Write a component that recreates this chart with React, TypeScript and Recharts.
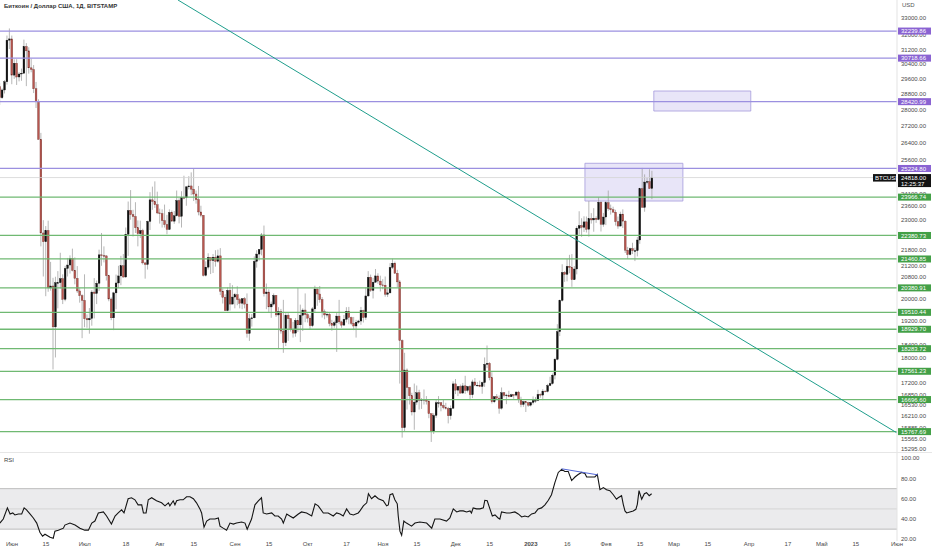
import React from 'react';
import {
  ComposedChart,
  Bar,
  Line,
  XAxis,
  YAxis,
  ReferenceLine,
  ReferenceArea,
} from 'recharts';

// day 0 = 1 June 2022, one candle per day: [open, high, low, close]
const firstDay = -5;

const may22 = [
  [29190, 29380, 28250, 28620], [28620, 29100, 28560, 29020], [29020, 29540, 28840, 29450],
  [29450, 31980, 29300, 31720], [31720, 32390, 31220, 31790],
];

const jun22 = [
  [31790, 31980, 29320, 29800], [29800, 30650, 29600, 30440], [30440, 30660, 29280, 29700],
  [29700, 29960, 29470, 29860], [29860, 30150, 29500, 29900], [29900, 31750, 29880, 31360],
  [31360, 31550, 29220, 31120], [31120, 31320, 29880, 30190], [30190, 30690, 29950, 30100],
  [30100, 30340, 28860, 29080], [29080, 29440, 28100, 28420], [28420, 28540, 26560, 26570],
  [26570, 26880, 21950, 22480], [22480, 23000, 20800, 22130], [22130, 22760, 20080, 22580],
  [22580, 22980, 20240, 20380], [20380, 21350, 20280, 20450], [20450, 20750, 17620, 19010],
  [19010, 20790, 18000, 20570], [20570, 21000, 19650, 20570], [20570, 21700, 20360, 20720],
  [20720, 20880, 19800, 19970], [19970, 21200, 19900, 21100], [21100, 21500, 20800, 21230],
  [21230, 21600, 20910, 21480], [21480, 21860, 20990, 21030], [21030, 21520, 20510, 20730],
  [20730, 21190, 20200, 20270], [20270, 20370, 19850, 20100], [20100, 20150, 18630, 19930],
];

const jul22 = [
  [19930, 20880, 19000, 19290], [19290, 19440, 18980, 19250], [19250, 19660, 18780, 19300],
  [19300, 20300, 19050, 20230], [20230, 20740, 19300, 20180], [20180, 20650, 19800, 20550],
  [20550, 21820, 20270, 21620], [21620, 22480, 21200, 21590], [21590, 21950, 21330, 21580],
  [21580, 21600, 20650, 20830], [20830, 20860, 19900, 19980], [19980, 20040, 19240, 19320],
  [19320, 20240, 18900, 20200], [20200, 20870, 19620, 20560], [20560, 21200, 20380, 20820],
  [20820, 21580, 20480, 21200], [21200, 21650, 20760, 20780], [20780, 22700, 20760, 22430],
  [22430, 23780, 21580, 23400], [23400, 24270, 23020, 23230], [23230, 23430, 22340, 23150],
  [23150, 23750, 22480, 22690], [22690, 22990, 21950, 22450], [22450, 22980, 22280, 22580],
  [22580, 22650, 21250, 21310], [21310, 21350, 20720, 21250], [21250, 22980, 21060, 22950],
  [22950, 24180, 22600, 23850], [23850, 24420, 23430, 23780], [23780, 24650, 23510, 23640],
  [23640, 24200, 23250, 23300],
];

const aug22 = [
  [23300, 23480, 22860, 23270], [23270, 23450, 22700, 22980], [22980, 23650, 22700, 22820],
  [22820, 23220, 22430, 22620], [22620, 23450, 22600, 23320], [23320, 23400, 22950, 22960],
  [22960, 23380, 22850, 23180], [23180, 24250, 23150, 23820], [23820, 23920, 22870, 23160],
  [23160, 24220, 22700, 23950], [23950, 24900, 23880, 23940], [23940, 24450, 23600, 24410],
  [24410, 24880, 24300, 24450], [24450, 25050, 24050, 24310], [24310, 25210, 23800, 24100],
  [24100, 24250, 23690, 23860], [23860, 24450, 23200, 23340], [23340, 23600, 23120, 23200],
  [23200, 23200, 20800, 20840], [20840, 21370, 20800, 21150], [21150, 21680, 21060, 21520],
  [21520, 21520, 20890, 21400], [21400, 21650, 20930, 21530], [21530, 21800, 21170, 21370],
  [21370, 21820, 21320, 21580], [21580, 21880, 20120, 20260], [20260, 20360, 19820, 20040],
  [20040, 20150, 19560, 19570], [19570, 20400, 19550, 20290], [20290, 20560, 19570, 19800],
  [19800, 20480, 19790, 20050],
];

const sep22 = [
  [20050, 20200, 19650, 20130], [20130, 20440, 19760, 19960], [19960, 20020, 19650, 19830],
  [19830, 20010, 19620, 19990], [19990, 20050, 19650, 19800], [19800, 20180, 18650, 18790],
  [18790, 19460, 18540, 19290], [19290, 19450, 19020, 19320], [19320, 21560, 19300, 21370],
  [21370, 21800, 21130, 21650], [21650, 21820, 21400, 21830], [21830, 22480, 21600, 22400],
  [22400, 22780, 20070, 20170], [20170, 20540, 19620, 20230], [20230, 20330, 19500, 19700],
  [19700, 19890, 19320, 19800], [19800, 20180, 19750, 20110], [20110, 20110, 19350, 19420],
  [19420, 19690, 18270, 19540], [19540, 19630, 18780, 18870], [18870, 19950, 18150, 18480],
  [18480, 19480, 18370, 19410], [19410, 19480, 18540, 19290], [19290, 19310, 18850, 18920],
  [18920, 19180, 18650, 18800], [18800, 19310, 18680, 19230], [19230, 20380, 18840, 19080],
  [19080, 19780, 18500, 19410], [19410, 19650, 18870, 19590], [19590, 20180, 19170, 19430],
];

const oct22 = [
  [19430, 19480, 19160, 19310], [19310, 19400, 18920, 19050], [19050, 19690, 19000, 19630],
  [19630, 20460, 19520, 20340], [20340, 20360, 19740, 20160], [20160, 20450, 19850, 19960],
  [19960, 20050, 19330, 19530], [19530, 19610, 19270, 19420], [19420, 19540, 19330, 19440],
  [19440, 19520, 19030, 19130], [19130, 19250, 18880, 19060], [19060, 19220, 18980, 19150],
  [19150, 19500, 18180, 19380], [19380, 19950, 19100, 19180], [19180, 19220, 18980, 19070],
  [19070, 19420, 19060, 19270], [19270, 19690, 19160, 19550], [19550, 19700, 19100, 19330],
  [19330, 19360, 19070, 19130], [19130, 19350, 18900, 19040], [19040, 19250, 18650, 19170],
  [19170, 19250, 19120, 19210], [19210, 19700, 19080, 19570], [19570, 19600, 19160, 19330],
  [19330, 20400, 19250, 20090], [20090, 21000, 20060, 20770], [20770, 20870, 20230, 20290],
  [20290, 20750, 20000, 20590], [20590, 21080, 20560, 20820], [20820, 20920, 20530, 20630],
  [20630, 20830, 20250, 20490],
];

const nov22 = [
  [20490, 20700, 20330, 20480], [20480, 20800, 20060, 20150], [20150, 20390, 20050, 20200],
  [20200, 21300, 20180, 21140], [21140, 21470, 21080, 21300], [21300, 21360, 20900, 20920],
  [20920, 21050, 20400, 20600], [20600, 20670, 17180, 18550], [18550, 18590, 15600, 15880],
  [15880, 18150, 15760, 17600], [17600, 17650, 16400, 17060], [17060, 17060, 16550, 16810],
  [16810, 16900, 16230, 16330], [16330, 17180, 15820, 16620], [16620, 17120, 16540, 16900],
  [16900, 16990, 16400, 16670], [16670, 16740, 16420, 16690], [16690, 17000, 16550, 16700],
  [16700, 16800, 16550, 16650], [16650, 16700, 16150, 16280], [16280, 16280, 15480, 15780],
  [15780, 16290, 15700, 16230], [16230, 16680, 16160, 16600], [16600, 16800, 16460, 16600],
  [16600, 16610, 16350, 16520], [16520, 16700, 16410, 16460], [16460, 16600, 16400, 16430],
  [16430, 16480, 16000, 16220], [16220, 16520, 16110, 16440], [16440, 17250, 16430, 17170],
];

const dec22 = [
  [17170, 17320, 16860, 16980], [16980, 17100, 16800, 17090], [17090, 17150, 16880, 16890],
  [16890, 17200, 16880, 17110], [17110, 17420, 16870, 16970], [16970, 17100, 16910, 17090],
  [17090, 17140, 16680, 16840], [16840, 17300, 16740, 17230], [17230, 17350, 17100, 17130],
  [17130, 17230, 17090, 17130], [17130, 17270, 17070, 17090], [17090, 17240, 16870, 17210],
  [17210, 18000, 17080, 17780], [17780, 18390, 17660, 17810], [17810, 17850, 17280, 17360],
  [17360, 17530, 16580, 16630], [16630, 16800, 16590, 16780], [16780, 16860, 16690, 16740],
  [16740, 16820, 16280, 16440], [16440, 17060, 16400, 16900], [16900, 16920, 16760, 16820],
  [16820, 16870, 16560, 16830], [16830, 16960, 16760, 16780], [16780, 16870, 16780, 16840],
  [16840, 16860, 16720, 16830], [16830, 16950, 16790, 16920], [16920, 16960, 16600, 16700],
  [16700, 16780, 16470, 16550], [16550, 16660, 16480, 16630], [16630, 16640, 16330, 16600],
  [16600, 16630, 16480, 16530],
];

const jan23 = [
  [16530, 16630, 16490, 16610], [16610, 16790, 16550, 16670], [16670, 16770, 16600, 16670],
  [16670, 16990, 16650, 16850], [16850, 16880, 16750, 16830], [16830, 17010, 16680, 16950],
  [16950, 16970, 16910, 16940], [16940, 17170, 16910, 17120], [17120, 17390, 17100, 17180],
  [17180, 17490, 17150, 17440], [17440, 17990, 17310, 17940], [17940, 19100, 17910, 18850],
  [18850, 19960, 18700, 19930], [19930, 21260, 19890, 20950], [20950, 21000, 20600, 20880],
  [20880, 21460, 20620, 21180], [21180, 21620, 20920, 21140], [21140, 21650, 20420, 20680],
  [20680, 21190, 20670, 21080], [21080, 22750, 20880, 22670], [22670, 23370, 22420, 22780],
  [22780, 23080, 22330, 22710], [22710, 23160, 22520, 22930], [22930, 23150, 22500, 22630],
  [22630, 23800, 22330, 23060], [23060, 23290, 22860, 23010], [23010, 23500, 22530, 23080],
  [23080, 23160, 22890, 23030], [23030, 23960, 23000, 23750], [23750, 23800, 22540, 22830],
  [22830, 23300, 22730, 23130],
];

const feb23 = [
  [23130, 23800, 22800, 23730], [23730, 24250, 23390, 23480], [23480, 23650, 23230, 23430],
  [23430, 23560, 23330, 23330], [23330, 23430, 22780, 22940], [22940, 23150, 22650, 22760],
  [22760, 23350, 22750, 23250], [23250, 23450, 22680, 22960], [22960, 23000, 21690, 21800],
  [21800, 21930, 21470, 21630], [21630, 21900, 21600, 21860], [21860, 22090, 21650, 21780],
  [21780, 21900, 21380, 21780], [21780, 22320, 21560, 22200], [22200, 24370, 22050, 24330],
  [24330, 25250, 23550, 23530], [23530, 24960, 23350, 24620], [24620, 24810, 24520, 24640],
  [24640, 25190, 24320, 24340], [24340, 25120, 23880, 24818],
];

// RSI: day positions and values
const rsiDays = [
  -5, -3.6, -1.9, -0.8, 0.3, 1.2, 2.6, 4, 5, 6, 7.4, 8.8, 10.2, 11.5, 12.6, 13.6, 15.7, 17, 17.7,
  19.1, 21.2, 21.8, 23.9, 26, 28, 30, 31.5, 32.9, 34.2, 35.6, 37.7, 39, 41, 42.5, 43.8, 45.2, 46.2,
  47.9, 49.3, 50.7, 52, 53.5, 54.2, 55.3, 56.2, 57.6, 59.6, 61.7, 63.1, 64.5, 65.1, 66.5, 67.2, 67.9,
  69.3, 70.6, 72, 73.4, 74.8, 76.1, 77.5, 78.2, 79.2, 80.3, 81.6, 83.7, 85.1, 85.8, 87.1, 88.5, 89.9,
  91.3, 92.6, 94.7, 96.1, 97, 98.8, 100.2, 101.6, 102.9, 103.6, 105, 107.1, 108.4, 109.8, 111.2,
  111.9, 113.3, 114.6, 116, 118.1, 119.4, 121.5, 123.6, 125, 126.3, 128.4, 130.4, 132.5, 133.9,
  135.3, 136.6, 138, 139.4, 140.8, 142.8, 143.5, 144.9, 146.3, 147, 148.3, 149.7, 151.1, 153.1,
  154.5, 155.2, 155.9, 157, 157.9, 158.9, 159.3, 160, 160.7, 161.6, 162.7, 164.8, 166.2, 168.2, 171,
  173.1, 174.4, 176.5, 179.2, 180.6, 182, 183.4, 184.7, 186.1, 187.5, 188.9, 189.5, 190.2, 191.6,
  193, 194.4, 195, 196, 197.1, 198.1, 199.2, 200.5, 201.2, 201.9, 204, 205.4, 207.4, 208.8, 210.2,
  211.5, 212.9, 214.3, 215.7, 217, 218.4, 219.8, 221.2, 222.5, 223.9, 225.3, 226.7, 228, 229.4,
  230.8, 232.2, 233.5, 234.9, 236.3, 237, 238.4, 240.4, 241.4, 242.5, 243.9, 245.2, 246.6, 248,
  249.3, 250, 251.4, 252.1, 252.8, 253.5, 254.8, 256.2, 257.3, 257.9, 258.6, 259.7, 260.8, 261.7,
  262.8, 263.8,
];

const rsiValues = [
  36, 40, 51, 45, 46, 44, 45, 45, 51, 49, 45, 41, 36, 27, 23, 25, 22, 21, 28,
  29, 31, 34, 36, 34, 31, 29, 29, 36, 38, 46, 47, 43, 35, 43, 46, 49, 46,
  60, 61, 59, 54, 54, 46, 46, 59, 61, 58, 56, 53, 56, 53, 58, 54, 58,
  59, 59, 62, 62, 60, 56, 50, 46, 32, 38, 40, 40, 41, 33, 31, 29, 36,
  35, 36, 37, 36, 30, 40, 54, 58, 61, 46, 45, 46, 43, 43, 40,
  36, 45, 43, 41, 45, 47, 46, 43, 55, 53, 46, 46, 43, 46,
  45, 43, 50, 45, 44, 46, 48, 53, 56, 65, 60, 63, 60, 58,
  53, 54, 64, 65, 59, 55, 43, 28, 24, 38, 36, 33, 36, 37, 36,
  31, 40, 40, 38, 41, 50, 47, 48, 48, 47, 48, 46, 51, 50,
  50, 51, 58.5, 58, 50, 43, 44, 41, 40, 47, 46, 46, 47, 45, 42,
  43, 42, 45, 46, 50, 51, 54, 58.5, 64, 76, 86, 89, 87, 87,
  78, 81.5, 84, 86, 85, 81.5, 81.5, 81.5, 84, 69, 71, 69, 68, 64,
  59.5, 61, 63, 54.5, 48, 46, 47, 48, 49.6, 54.5, 68, 59.5, 65, 66,
  63, 65,
];

const purpleLevels = [32239.86, 30718.66, 28420.99, 25224.8];
const greenLevels = [
  23966.74, 22380.73, 21460.85, 20380.91, 19510.44, 18929.7, 18283.72, 17561.23, 16696.6, 15767.69,
];
const lastPrice = 24818;

const priceTicks = [
  33000, 32000, 31200, 30400, 29600, 28800, 28000, 27200, 26400, 25600, 24100, 23600, 23000,
  21800, 21200, 20800, 20000, 19200, 18400, 18000, 17200, 16850, 16530, 16210,
  15885, 15565, 15295,
];
const rsiTicks = [20, 40, 60, 80, 100];

const dateTickDays = [
  0, 14, 30, 47, 61, 75, 92, 106, 122, 138, 153, 167, 183, 197, 214, 229, 245, 259, 273, 287, 304,
  320, 334, 348, 365,
];
const dateTickLabels = [
  'Июн', '15', 'Июл', '18', 'Авг', '15', 'Сен', '15', 'Окт', '17', 'Ноя', '15', 'Дек', '15',
  '2023', '16', 'Фев', '15', 'Мар', '15', 'Апр', '17', 'Май', '15', 'Июн',
];

const candleData = [may22, jun22, jul22, aug22, sep22, oct22, nov22, dec22, jan23, feb23]
  .flat()
  .map((c, i) => ({
    day: firstDay + i,
    open: c[0],
    high: c[1],
    low: c[2],
    close: c[3],
    range: [c[2], c[1]],
  }));

const rsiData = rsiDays.map((d, i) => ({ day: d, rsi: rsiValues[i] }));

const dayDomain = [-4.95, 365];
const priceDomain = [15204, 34078];
const font = '"Liberation Sans", Arial, sans-serif';
const axisText = { fontSize: 6, fill: '#4a4a4a', fontFamily: font };

const Candle = (props: any) => {
  const { x, y, width, height } = props;
  const c = props.payload ?? candleData[props.index];
  if (!c || x == null) return null;
  const top = Math.min(y, y + height);
  const bot = Math.max(y, y + height);
  const span = Math.log(c.high) - Math.log(c.low);
  const toY = (p: number) => (span > 0 ? top + ((bot - top) * (Math.log(c.high) - Math.log(p))) / span : top);
  const cx = x + width / 2;
  const up = c.close >= c.open;
  const yo = toY(c.open);
  const yc = toY(c.close);
  return (
    <g>
      <line x1={cx} x2={cx} y1={top} y2={bot} stroke="#a3a3a3" strokeWidth={0.8} />
      <rect
        x={cx - 0.9}
        y={Math.min(yo, yc)}
        width={1.8}
        height={Math.max(0.7, Math.abs(yo - yc))}
        fill={up ? '#111111' : '#b8564f'}
        stroke={up ? '#111111' : '#6d312d'}
        strokeWidth={0.35}
      />
    </g>
  );
};

const LevelTag = (props: any) => {
  const { viewBox, text, bg } = props;
  if (!viewBox) return null;
  const x = viewBox.x + viewBox.width;
  const y = viewBox.y;
  return (
    <g>
      <rect x={x + 1} y={y - 3.5} width={33} height={7} fill={bg} />
      <text x={x + 4} y={y} dy="0.35em" fontSize={6} fill="#ffffff" fontFamily={font}>
        {text}
      </text>
    </g>
  );
};

const LastPriceTag = (props: any) => {
  const { viewBox } = props;
  if (!viewBox) return null;
  const x = viewBox.x + viewBox.width;
  const y = viewBox.y;
  return (
    <g fontFamily={font} fontSize={6} fill="#ffffff">
      <rect x={x - 24} y={y - 3.5} width={23} height={7.5} fill="#131313" />
      <text x={x - 22} y={y} dy="0.35em">BTCUSD</text>
      <rect x={x + 1} y={y - 3.5} width={33} height={13} fill="#131313" />
      <text x={x + 4} y={y} dy="0.35em">{lastPrice.toFixed(2)}</text>
      <text x={x + 4} y={y + 6} dy="0.35em">12:25:37</text>
    </g>
  );
};

const DateTick = (props: any) => {
  const { x, y, payload } = props;
  const i = dateTickDays.indexOf(payload.value);
  const label = dateTickLabels[i] ?? '';
  return (
    <text
      x={x}
      y={y}
      dy="0.71em"
      textAnchor="middle"
      fontSize={6}
      fill="#4a4a4a"
      fontFamily={font}
      fontWeight={label === '2023' ? 700 : 400}
    >
      {label}
    </text>
  );
};

const App: React.FC = () => {
  return (
    <div style={{ position: 'absolute', left: 0, top: 0, width: 932, height: 550, background: '#fff', overflow: 'hidden' }}>
      <ComposedChart width={932} height={452} data={candleData} margin={{ top: 0, right: 0, bottom: 0, left: 0 }}>
        <XAxis type="number" dataKey="day" domain={dayDomain} allowDataOverflow hide />
        <YAxis
          orientation="right"
          scale="log"
          domain={priceDomain}
          allowDataOverflow
          ticks={priceTicks}
          interval={0}
          width={35}
          tick={axisText}
          tickLine={false}
          tickSize={3}
          tickMargin={1}
          axisLine={{ stroke: '#e3e3e3' }}
          tickFormatter={(v: number) => v.toFixed(2)}
        />
        <ReferenceArea x1={236.3} x2={276.7} y1={23800} y2={25460} fill="#d6cff3" fillOpacity={0.55} stroke="#a59bdc" strokeWidth={0.8} ifOverflow="hidden" />
        <ReferenceArea x1={264.7} x2={304.7} y1={27950} y2={28967} fill="#d6cff3" fillOpacity={0.55} stroke="#a59bdc" strokeWidth={0.8} ifOverflow="hidden" />
        <ReferenceLine y={lastPrice} stroke="#d4d4d4" strokeWidth={0.8} />
        {purpleLevels.map((v) => (
          <ReferenceLine key={v} y={v} stroke="#9b90e0" strokeWidth={1.3} />
        ))}
        {greenLevels.map((v) => (
          <ReferenceLine key={v} y={v} stroke="#6fb972" strokeWidth={1.3} />
        ))}
        <ReferenceLine
          segment={[{ x: 68.45, y: 34078 }, { x: 364.9, y: 15735 }]}
          stroke="#1f9e8c"
          strokeWidth={1}
          ifOverflow="visible"
        />
        <Bar dataKey="range" barSize={2} shape={<Candle />} isAnimationActive={false} />
      </ComposedChart>

      {/* price tags drawn above the axis labels, on the same scales */}
      <div style={{ position: 'absolute', left: 0, top: 0, pointerEvents: 'none' }}>
        <ComposedChart width={932} height={452} data={candleData} margin={{ top: 0, right: 0, bottom: 0, left: 0 }}>
          <XAxis type="number" dataKey="day" domain={dayDomain} allowDataOverflow hide />
          <YAxis orientation="right" scale="log" domain={priceDomain} allowDataOverflow width={35} tick={false} tickLine={false} axisLine={false} />
          <ReferenceLine y={lastPrice} stroke="none" label={<LastPriceTag />} />
          {purpleLevels.map((v) => (
            <ReferenceLine key={v} y={v} stroke="none" label={<LevelTag text={v.toFixed(2)} bg="#8a63d2" />} />
          ))}
          {greenLevels.map((v) => (
            <ReferenceLine key={v} y={v} stroke="none" label={<LevelTag text={v.toFixed(2)} bg="#43a047" />} />
          ))}
        </ComposedChart>
      </div>

      <div style={{ borderTop: '1px solid #e6e6e6', width: 932, height: 97 }}>
        <ComposedChart width={932} height={97} data={rsiData} margin={{ top: 0, right: 0, bottom: 0, left: 0 }}>
          <XAxis
            type="number"
            dataKey="day"
            domain={dayDomain}
            allowDataOverflow
            ticks={dateTickDays}
            interval={0}
            height={9}
            tick={<DateTick />}
            tickLine={false}
            tickSize={1}
            tickMargin={0}
            axisLine={false}
          />
          <YAxis
            orientation="right"
            domain={[18.3, 105.2]}
            allowDataOverflow
            ticks={rsiTicks}
            interval={0}
            width={35}
            tick={axisText}
            tickLine={false}
            tickSize={3}
            tickMargin={1}
            axisLine={{ stroke: '#e3e3e3' }}
            tickFormatter={(v: number) => v.toFixed(2)}
          />
          <ReferenceArea y1={30} y2={70} fill="#ebebed" fillOpacity={1} />
          <ReferenceLine y={70} stroke="#bdbdbd" strokeWidth={1} />
          <ReferenceLine y={50} stroke="#cfcfcf" strokeWidth={0.8} />
          <ReferenceLine y={30} stroke="#bdbdbd" strokeWidth={1} />
          <Line dataKey="rsi" type="linear" dot={false} stroke="#141414" strokeWidth={1.1} isAnimationActive={false} />
          <ReferenceLine
            segment={[{ x: 226.7, y: 89.6 }, { x: 241.6, y: 83.6 }]}
            stroke="#5468d8"
            strokeWidth={1}
          />
        </ComposedChart>
      </div>

      <div style={{ position: 'absolute', left: 4, top: 3, fontFamily: font, fontSize: 6, fontWeight: 700, color: '#333' }}>
        Биткоин / Доллар США, 1Д, BITSTAMP
      </div>
      <div style={{ position: 'absolute', left: 902, top: 2, fontFamily: font, fontSize: 6, color: '#555' }}>USD</div>
      <div style={{ position: 'absolute', left: 4, top: 457, fontFamily: font, fontSize: 6, color: '#444' }}>RSI</div>
    </div>
  );
};

export default App;
